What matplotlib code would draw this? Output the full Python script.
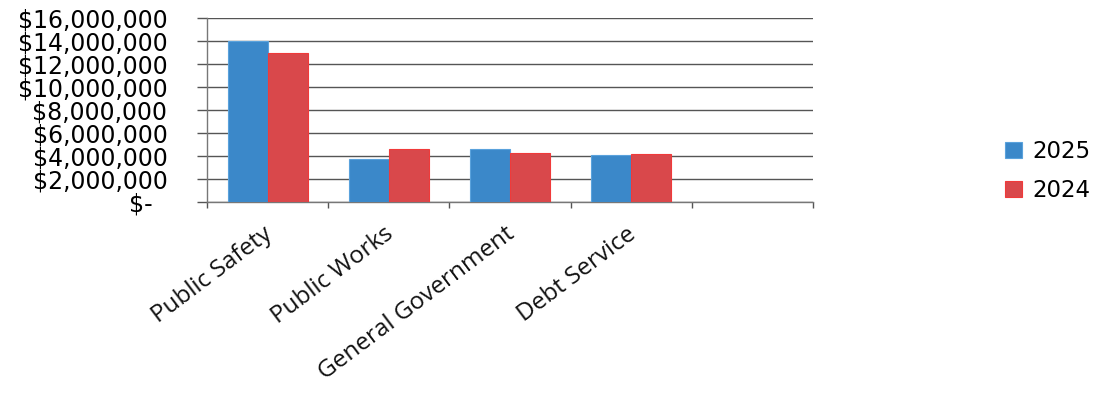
import matplotlib
matplotlib.use("Agg")
import matplotlib.pyplot as plt
import matplotlib.transforms as mtransforms
import numpy as np
from matplotlib.ticker import FuncFormatter, FixedLocator

categories = ["Public Safety", "Public Works", "General Government", "Debt Service", ""]
values_2025 = [14000000, 3700000, 4650000, 4120000, 0]
values_2024 = [12930000, 4640000, 4230000, 4200000, 0]
series_names = ["2025", "2024"]

blue = "#3b88c9"
red = "#d9484b"

plt.rcParams["font.family"] = ["DejaVu Sans"]

fig = plt.figure(figsize=(10.95, 3.93), dpi=100)
ax = fig.add_axes([207 / 1095, 1 - 202 / 393, (813 - 207) / 1095, (202 - 18) / 393])

x = np.arange(len(categories))
w = 0.33
ax.bar(x[:4] - w / 2, values_2025[:4], width=w, color=blue, edgecolor="#5aa2dc",
       linewidth=0.8, label=series_names[0], zorder=3)
ax.bar(x[:4] + w / 2, values_2024[:4], width=w, color=red, edgecolor="#f03a3a",
       linewidth=0.8, label=series_names[1], zorder=3)

ax.set_xlim(-0.5, len(categories) - 0.5)
ax.set_ylim(0, 16000000)
ax.set_yticks(np.arange(0, 16000001, 2000000))


def money(v, pos):
    if v == 0:
        return "$-  "
    return "${:,.0f}".format(v)


ax.yaxis.set_major_formatter(FuncFormatter(money))
ax.yaxis.grid(True, color="#555555", linewidth=1.0, zorder=0)
ax.set_axisbelow(True)

# ticks on category boundaries, names drawn as rotated text under each slot
ax.xaxis.set_major_locator(FixedLocator(np.arange(-0.5, len(categories), 1.0)))
ax.set_xticklabels([])
ax.tick_params(axis="x", which="major", length=4, color="#555555", width=1)
# lengths in points: 7pt tick ~ 10px, label ending near x=167px
ax.tick_params(axis="y", length=7, color="#555555", width=1, labelsize=17, pad=21.5)

base = ax.get_xaxis_transform() + mtransforms.ScaledTranslation(-5 / 100, -20 / 100, fig.dpi_scale_trans)
for i, name in enumerate(categories):
    if name:
        ax.text(x[i], 0, name, transform=base, rotation=37, ha="right", va="top",
                rotation_mode="anchor", fontsize=17.5, family=["Open Sans", "DejaVu Sans"],
                color="#111111")

for s in ["top", "right"]:
    ax.spines[s].set_visible(False)
for s in ["left", "bottom"]:
    ax.spines[s].set_color("#777777")
    ax.spines[s].set_linewidth(1.0)

fig.legend(loc="center left", bbox_to_anchor=(996 / 1095, 1 - 171 / 393), frameon=False,
           fontsize=16.5, handlelength=0.75, handleheight=0.7, labelspacing=0.7,
           handletextpad=0.45, borderaxespad=0)

fig.savefig("out.png", dpi=100)
